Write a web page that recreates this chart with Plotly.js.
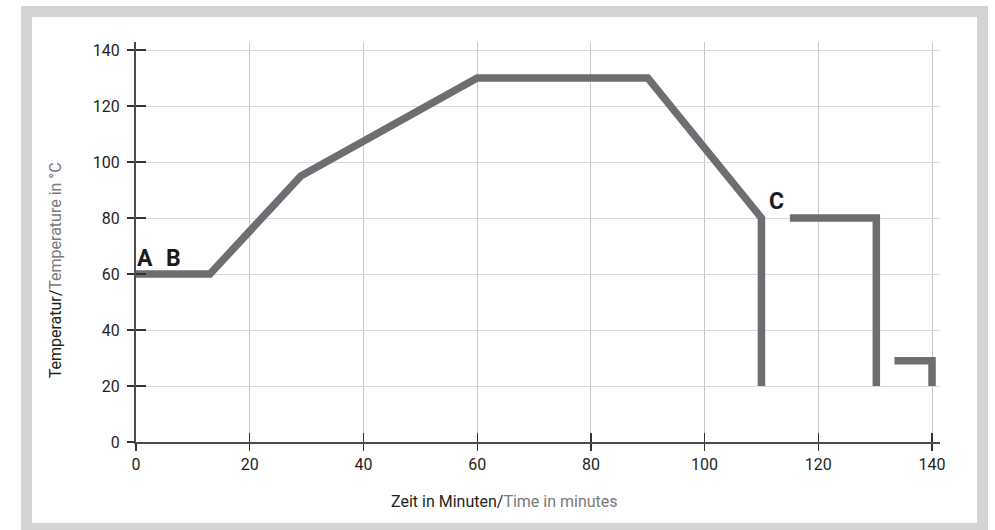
<!DOCTYPE html>
<html>
<head>
<meta charset="utf-8">
<script src="https://cdn.plot.ly/plotly-3.0.1.min.js"></script>
<style>
  html, body { margin: 0; padding: 0; background: #ffffff; }
  #frame { position: absolute; left: 21px; top: 6px; width: 967px; height: 528px;
           box-sizing: border-box; border: 11px solid #d3d4d6; background: #ffffff; }
  #chart { position: absolute; left: 0; top: 0; width: 995px; height: 530px; }
  .js-line { stroke-linejoin: miter !important; stroke-linecap: butt !important; }
</style>
</head>
<body>
<div id="frame"></div>
<div id="chart"></div>
<script>
// Temperature profile segments (minutes, °C)
const seg1X = [0, 13, 29, 60, 90, 110, 110];
const seg1Y = [60, 60, 95, 130, 130, 80, 20];
const seg2X = [115, 130.2, 130.2];
const seg2Y = [80, 80, 20];
const seg3X = [133.4, 140, 140];
const seg3Y = [29, 29, 20];

// Axis ticks
const xTicks = [0, 20, 40, 60, 80, 100, 120, 140];
const yTicks = [0, 20, 40, 60, 80, 100, 120, 140];

// Point labels
const labelText = ["A", "B", "C"];
const labelX = [1.6, 6.6, 112.7];
const labelY = [65.7, 65.7, 86];

const lineColor = "#6d6e71";
const mk = (x, y) => ({
  x: x, y: y, type: "scatter", mode: "lines",
  line: { color: lineColor, width: 7.5 },
  hoverinfo: "skip", showlegend: false, cliponaxis: false
});

const traces = [mk(seg1X, seg1Y), mk(seg2X, seg2Y), mk(seg3X, seg3Y),
  { x: seg1X, y: seg1Y, xaxis: "x2", yaxis: "y2", type: "scatter", mode: "lines",
    line: { width: 0 }, opacity: 0, hoverinfo: "skip", showlegend: false }];

const tickFont = { family: "Roboto, sans-serif", size: 16, color: "#231f20" };
const xRange = [0, 141.4];
const yRange = [0, 142.86];

const annotations = labelText.map((t, i) => ({
  x: labelX[i], y: labelY[i], xref: "x", yref: "y", text: t, showarrow: false,
  font: { family: "Roboto, sans-serif", size: 23, color: "#1a1a1a", weight: 700 },
  xanchor: "center", yanchor: "middle"
}));
annotations.push({
  xref: "paper", yref: "paper", x: 0.458, y: -0.15, xanchor: "center", yanchor: "middle",
  showarrow: false,
  text: 'Zeit in Minuten/<span style="color:#78787b">Time in minutes</span>',
  font: { family: "Roboto, sans-serif", size: 16, color: "#231f20" }
});
annotations.push({
  xref: "paper", yref: "paper", x: -0.1003, y: 0.43, xanchor: "center", yanchor: "middle",
  showarrow: false, textangle: -90,
  text: 'Temperatur/<span style="color:#78787b">Temperature in °C</span>',
  font: { family: "Roboto, sans-serif", size: 16, color: "#231f20" }
});

const layout = {
  width: 995, height: 530,
  margin: { l: 135.7, r: 55, t: 42, b: 88, pad: 0 },
  paper_bgcolor: "rgba(0,0,0,0)", plot_bgcolor: "rgba(0,0,0,0)",
  showlegend: false,
  xaxis: {
    range: xRange, tickvals: xTicks, ticktext: xTicks.map(String),
    showgrid: true, gridcolor: "#c8c8ca", gridwidth: 1, zeroline: false,
    showline: true, linecolor: "#4a4a4c", linewidth: 1.5,
    ticks: "outside", ticklen: 7, tickwidth: 1.3, tickcolor: "#333",
    tickfont: tickFont, ticklabelstandoff: 0, fixedrange: true
  },
  yaxis: {
    range: yRange, tickvals: yTicks, ticktext: yTicks.map(String),
    showgrid: true, gridcolor: "#d9d9db", gridwidth: 1, zeroline: false,
    showline: true, linecolor: "#4a4a4c", linewidth: 2,
    ticks: "outside", ticklen: 7, tickwidth: 1.3, tickcolor: "#333",
    tickfont: tickFont, ticklabelstandoff: 4, fixedrange: true
  },
  xaxis2: {
    overlaying: "x", anchor: "y2", side: "bottom", range: xRange, tickvals: xTicks,
    showticklabels: false, showgrid: false, zeroline: false, showline: false,
    ticks: "inside", ticklen: 9, tickwidth: 1.3, tickcolor: "#333", fixedrange: true
  },
  yaxis2: {
    overlaying: "y", anchor: "x2", side: "left", range: yRange, tickvals: yTicks,
    showticklabels: false, showgrid: false, zeroline: false, showline: false,
    ticks: "inside", ticklen: 10, tickwidth: 1.3, tickcolor: "#333", fixedrange: true
  },
  annotations: annotations
};

Plotly.newPlot("chart", traces, layout, { displayModeBar: false, staticPlot: true });
</script>
</body>
</html>
